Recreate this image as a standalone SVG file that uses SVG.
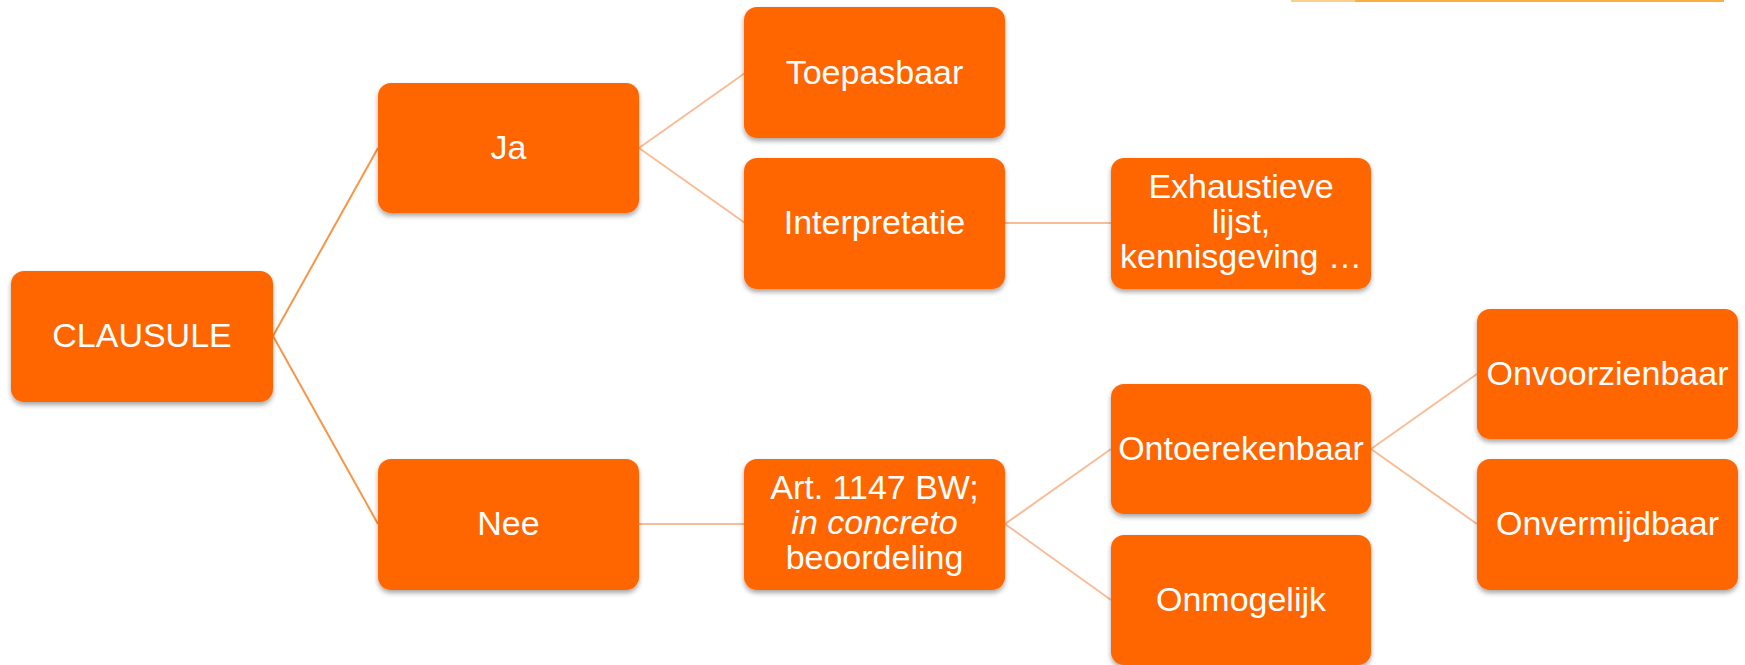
<svg xmlns="http://www.w3.org/2000/svg" width="1745" height="665" viewBox="0 0 1745 665">
<style>
.box{fill:#FF6600;filter:url(#sh)}
.t{font-family:"Liberation Sans",Arial,sans-serif;font-size:34px;fill:#FFFFFF;text-anchor:middle}
.c1{stroke:#F7964A;stroke-width:2;fill:none}
.c2{stroke:#F9BC98;stroke-width:2;fill:none}
</style>
<defs>
<filter id="sh" x="-10%" y="-10%" width="120%" height="130%">
<feGaussianBlur in="SourceAlpha" stdDeviation="2.5"/>
<feOffset dx="0" dy="3" result="b"/>
<feComponentTransfer><feFuncA type="linear" slope="0.35"/></feComponentTransfer>
<feMerge><feMergeNode/><feMergeNode in="SourceGraphic"/></feMerge>
</filter>
</defs>
<rect x="1291" y="0" width="433" height="2" fill="#F9B040"/>
<rect x="1291" y="0" width="64" height="2" fill="#FCD08A"/>
<g id="connectors">
<path class="c1" d="M273,336 L378,148 M273,336 L378,524"/>
<path class="c2" d="M639,148 L745,73 M639,148 L745,223 M1005,223 L1111,223 M639,524 L745,524 M1005,524 L1111,449 M1005,524 L1111,600 M1371,449 L1477,374 M1371,449 L1477,524"/>
</g>
<g id="clausule"><rect class="box" x="11" y="271" width="262" height="131" rx="13"/><text class="t" x="142" y="347">CLAUSULE</text></g>
<g id="ja"><rect class="box" x="378" y="83" width="261" height="130" rx="13"/><text class="t" x="508.5" y="159">Ja</text></g>
<g id="nee"><rect class="box" x="378" y="459" width="261" height="131" rx="13"/><text class="t" x="508.5" y="535">Nee</text></g>
<g id="toepasbaar"><rect class="box" x="744" y="7" width="261" height="131" rx="13"/><text class="t" x="874.5" y="84">Toepasbaar</text></g>
<g id="interpretatie"><rect class="box" x="744" y="158" width="261" height="131" rx="13"/><text class="t" x="874.5" y="234">Interpretatie</text></g>
<g id="exhaustieve"><rect class="box" x="1111" y="158" width="260" height="131" rx="13"/><text class="t" x="1241" y="198">Exhaustieve</text><text class="t" x="1241" y="233">lijst,</text><text class="t" x="1241" y="268">kennisgeving …</text></g>
<g id="art1147"><rect class="box" x="744" y="459" width="261" height="131" rx="13"/><text class="t" x="874.5" y="499">Art. 1147 BW;</text><text class="t" x="874.5" y="534" font-style="italic">in concreto</text><text class="t" x="874.5" y="569">beoordeling</text></g>
<g id="ontoerekenbaar"><rect class="box" x="1111" y="384" width="260" height="130" rx="13"/><text class="t" x="1241" y="460">Ontoerekenbaar</text></g>
<g id="onmogelijk"><rect class="box" x="1111" y="535" width="260" height="130" rx="13"/><text class="t" x="1241" y="611">Onmogelijk</text></g>
<g id="onvoorzienbaar"><rect class="box" x="1477" y="309" width="261" height="130" rx="13"/><text class="t" x="1607.5" y="385">Onvoorzienbaar</text></g>
<g id="onvermijdbaar"><rect class="box" x="1477" y="459" width="261" height="131" rx="13"/><text class="t" x="1607.5" y="535">Onvermijdbaar</text></g>
</svg>
